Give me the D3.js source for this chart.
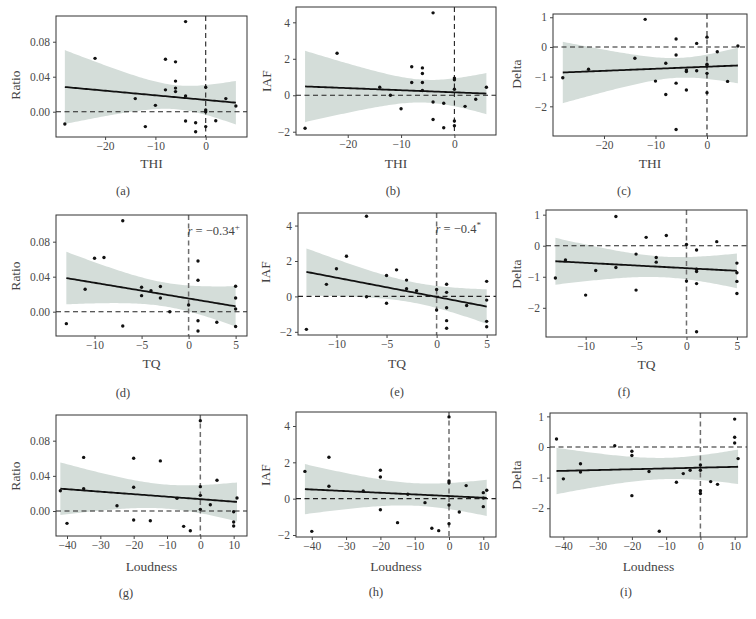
<!DOCTYPE html>
<html><head><meta charset="utf-8">
<script src="https://cdn.jsdelivr.net/npm/d3@7"></script>
<style>body{margin:0;background:#fff} svg{display:block}</style>
</head><body><svg id="c" width="756" height="619"></svg>
<script>
// ---------- data ----------
// (a) Ratio vs THI
const aX = [-4,-22,-8,-6,-6,-6,-6,-8,-4,0,0,0,4,6,-14,-10,-28,-12,-4,-2,-2,0,2];
const aY = [0.103,0.061,0.060,0.057,0.035,0.027,0.023,0.025,0.018,0.028,0.002,0.000,0.015,0.0065,0.015,0.0073,-0.014,-0.017,-0.0106,-0.0126,-0.0229,-0.017,-0.0103];
// (b) IAF vs THI
const bX = [-4,-22,-8,-6,-6,-8,-6,-6,0,0,0,6,-14,-12,-10,-4,-2,2,4,-4,0,0,-2,-28];
const bY = [4.52,2.30,1.56,1.50,1.19,0.70,0.70,0.26,0.94,0.85,0.33,0.44,0.44,0.0,-0.74,-0.37,-0.44,-0.61,-0.22,-1.33,-1.41,-1.67,-1.78,-1.81];
// (c) Delta vs THI
const cX = [-12,-6,0,-2,2,6,-6,-14,-23,-8,-4,-4,-2,0,0,0,-10,-6,4,-4,-8,0,-6,-28];
const cY = [0.93,0.27,0.33,0.12,-0.16,0.03,-0.27,-0.38,-0.75,-0.55,-0.78,-0.83,-0.80,-0.58,-0.64,-0.89,-1.15,-1.22,-1.16,-1.45,-1.60,-1.54,-2.78,-1.04];
// (d) Ratio vs TQ
const dX = [-7,-10,-9,-11,-13,-7,-5,-5,-4,-3,-3,-2,0,1,1,1,1,3,5,5,5,5];
const dY = [0.104,0.061,0.062,0.0256,-0.0137,-0.0163,0.0279,0.0183,0.024,0.0288,0.0157,0.0,0.0077,0.058,0.0359,-0.0103,-0.022,-0.012,0.029,0.0157,0.003,-0.017];
// (e) IAF vs TQ
const eX = [-7,-9,-10,-11,-13,-7,-5,-4,-3,-3,-2,-5,0,0,1,1,1,1,1,3,5,5,5,5];
const eY = [4.53,2.27,1.56,0.68,-1.86,-0.02,1.18,1.50,0.92,0.43,0.32,-0.39,0.39,-0.77,0.69,0.23,-0.64,-1.37,-1.80,-0.51,0.85,-0.21,-1.41,-1.71];
// (f) Delta vs TQ
const fX = [-7,-4,-2,3,0,1,-5,-3,-3,5,-12,-9,-7,-13,-10,-5,0,1,1,1,1,5,5,5];
const fY = [0.94,0.27,0.33,0.13,0.04,-0.14,-0.27,-0.38,-0.53,-0.56,-0.46,-0.80,-0.70,-1.04,-1.59,-1.43,-1.14,-0.76,-0.83,-1.22,-2.77,-0.87,-1.15,-1.54];
// (g) Ratio vs Loudness
const gX = [0,-35,-20,-12,5,-42,-35,-20,0,0,-7,-25,3,11,0,10,-20,-15,-40,-5,-3,10,10];
const gY = [0.1027,0.061,0.060,0.057,0.035,0.023,0.0254,0.027,0.0277,0.0178,0.0144,0.006,0.0072,0.0148,0.0019,-0.0008,-0.0102,-0.011,-0.014,-0.0174,-0.0224,-0.0125,-0.0171];
// (h) IAF vs Loudness
const hX = [0,-35,-20,-20,-42,-35,-25,-12,0,0,5,10,11,0,-7,10,-20,3,-15,0,-5,-3,-40,10];
const hY = [4.5,2.28,1.56,1.19,1.5,0.68,0.42,0.24,0.97,0.88,0.72,0.33,0.46,-0.35,-0.22,-0.44,-0.61,-0.73,-1.32,-1.38,-1.63,-1.76,-1.8,0.03];
// (i) Delta vs Loudness
const iX = [10,10,10,-42,-25,-20,-20,11,-35,-35,-15,-5,-3,0,0,-40,-7,3,5,0,0,-20,-12];
const iY = [0.91,0.32,0.13,0.26,0.04,-0.14,-0.28,-0.38,-0.55,-0.82,-0.80,-0.87,-0.76,-0.59,-0.76,-1.04,-1.15,-1.13,-1.22,-1.43,-1.52,-1.59,-2.75];

// tick labels
const ticksTHI = [-20,-10,0];
const ticksTQ = [-10,-5,0,5];
const ticksLoud = [-40,-30,-20,-10,0,10];
const ticksRatio = [0,0.04,0.08];
const ticksIAF = [-2,0,2,4];
const ticksDelta = [-2,-1,0,1];
const captions = ["(a)","(b)","(c)","(d)","(e)","(f)","(g)","(h)","(i)"];
const annotations = {d:"−0.34", e:"−0.4"};
const annotationSup = {d:"+", e:"*"};

// fit span of each row variable
const spanTHI = d3.extent([...aX,...bX,...cX]);
const spanTQ = d3.extent([...dX,...eX,...fX]);
const spanLoud = d3.extent([...gX,...hX,...iX]);

// ---------- layout ----------
const panels = [
 {id:'a', X:aX, Y:aY, xl:'THI', yl:'Ratio', box:[56,16,247,137], xd:[-29.76,8.21], yd:[-0.0289,0.1094], xt:ticksTHI, yt:ticksRatio, fmt:'.2f', span:spanTHI, ylp:[15,85], xly:163, cap:[123,191], grey:false},
 {id:'b', X:bX, Y:bY, xl:'THI', yl:'IAF', box:[296,7,496,135], xd:[-29.7,7.8], yd:[-2.18,4.84], xt:ticksTHI, yt:ticksIAF, fmt:'d', span:spanTHI, ylp:[266.7,81], xly:163, cap:[393,191], grey:false},
 {id:'c', X:cX, Y:cY, xl:'THI', yl:'Delta', box:[553,14,747,136], xd:[-29.9,7.77], yd:[-3.0,1.11], xt:ticksTHI, yt:ticksDelta, fmt:'d', span:spanTHI, ylp:[516.7,74], xly:163, cap:[624,191], grey:false},
 {id:'d', X:dX, Y:dY, xl:'TQ', yl:'Ratio', box:[56,215,247,336], xd:[-14.1,6.21], yd:[-0.0278,0.1105], xt:ticksTQ, yt:ticksRatio, fmt:'.2f', span:spanTQ, ylp:[15,276], xly:363, cap:[123,393], grey:true},
 {id:'e', X:eX, Y:eY, xl:'TQ', yl:'IAF', box:[298,213,496,335], xd:[-13.84,5.93], yd:[-2.18,4.71], xt:ticksTQ, yt:ticksIAF, fmt:'d', span:spanTQ, ylp:[265,272], xly:363, cap:[397,392], grey:true},
 {id:'f', X:fX, Y:fY, xl:'TQ', yl:'Delta', box:[546,210,747,337], xd:[-13.93,6.0], yd:[-2.94,1.15], xt:ticksTQ, yt:ticksDelta, fmt:'d', span:spanTQ, ylp:[516.7,274], xly:364, cap:[624,392], grey:true},
 {id:'g', X:gX, Y:gY, xl:'Loudness', yl:'Ratio', box:[56,415,247,536], xd:[-43.3,14.0], yd:[-0.0284,0.1092], xt:ticksLoud, yt:ticksRatio, fmt:'.2f', span:spanLoud, ylp:[15,476], xly:566, cap:[126,593], grey:true},
 {id:'h', X:hX, Y:hY, xl:'Loudness', yl:'IAF', box:[296,412,496,537], xd:[-44.6,13.7], yd:[-2.11,4.77], xt:ticksLoud, yt:ticksIAF, fmt:'d', span:spanLoud, ylp:[265,475], xly:566, cap:[376,592], grey:true},
 {id:'i', X:iX, Y:iY, xl:'Loudness', yl:'Delta', box:[550,413,747,537], xd:[-43.9,13.6], yd:[-2.94,1.11], xt:ticksLoud, yt:ticksDelta, fmt:'d', span:spanLoud, ylp:[516.7,475], xly:566, cap:[626,592], grey:true}
];

const tTable = {19:2.093,20:2.086,21:2.080,22:2.074,23:2.069,24:2.064};
function lmBand(xs, ys, span){
  const n = xs.length, mx = d3.mean(xs), my = d3.mean(ys);
  let sxx=0, sxy=0;
  for(let k=0;k<n;k++){ sxx += (xs[k]-mx)**2; sxy += (xs[k]-mx)*(ys[k]-my); }
  const b = sxy/sxx, a = my - b*mx;
  let sse=0; for(let k=0;k<n;k++){ sse += (ys[k]-(a+b*xs[k]))**2; }
  const s = Math.sqrt(sse/(n-2)), t = tTable[n-2] || 2.07;
  return d3.range(81).map(k=>{
    const x = span[0] + (span[1]-span[0])*k/80, yh = a + b*x;
    const se = s*Math.sqrt(1/n + (x-mx)**2/sxx);
    return {x, y:yh, lo:yh - t*se, hi:yh + t*se};
  });
}

const svg = d3.select('#c');
const FONT = 'Liberation Serif, DejaVu Serif, serif';
const defs = svg.append('defs');

panels.forEach((p, idx)=>{
  const [L,T,R,B] = p.box;
  const x = d3.scaleLinear().domain(p.xd).range([L,R]);
  const y = d3.scaleLinear().domain(p.yd).range([B,T]);
  const g = svg.append('g');
  defs.append('clipPath').attr('id','clip'+p.id).append('rect').attr('x',L).attr('y',T).attr('width',R-L).attr('height',B-T);
  const inner = g.append('g').attr('clip-path','url(#clip'+p.id+')');

  const band = lmBand(p.X, p.Y, p.span);
  inner.append('path').datum(band)
    .attr('d', d3.area().x(d=>x(d.x)).y0(d=>y(d.lo)).y1(d=>y(d.hi)))
    .attr('fill','#d4ddd9');

  // zero reference lines
  inner.append('line').attr('x1',L).attr('x2',R).attr('y1',y(0)).attr('y2',y(0))
    .attr('stroke','#222').attr('stroke-width',1.1).attr('stroke-dasharray','5,3.5');
  inner.append('line').attr('x1',x(0)).attr('x2',x(0)).attr('y1',T).attr('y2',B)
    .attr('stroke', p.grey ? '#6e6e6e' : '#222').attr('stroke-width', p.grey ? 1.5 : 1.1)
    .attr('stroke-dasharray','5,3.5');

  inner.append('path').datum(band)
    .attr('d', d3.line().x(d=>x(d.x)).y(d=>y(d.y)))
    .attr('fill','none').attr('stroke','#111').attr('stroke-width',1.8);

  inner.selectAll('circle').data(p.X.map((v,k)=>[v,p.Y[k]])).join('circle')
    .attr('cx',d=>x(d[0])).attr('cy',d=>y(d[1])).attr('r',1.7).attr('fill','#111');

  g.append('rect').attr('x',L).attr('y',T).attr('width',R-L).attr('height',B-T)
    .attr('fill','none').attr('stroke','#333').attr('stroke-width',1);

  const fmt = p.fmt==='d' ? d3.format('d') : d3.format(p.fmt);
  const ax = g.append('g').attr('transform',`translate(0,${B})`)
    .call(d3.axisBottom(x).tickValues(p.xt).tickSize(3).tickPadding(2).tickFormat(d3.format('d')));
  const ay = g.append('g').attr('transform',`translate(${L},0)`)
    .call(d3.axisLeft(y).tickValues(p.yt).tickSize(3).tickPadding(3).tickFormat(fmt));
  [ax,ay].forEach(a=>{
    a.attr('font-family',FONT).attr('font-size',11.5);
    a.select('.domain').remove();
    a.selectAll('line').attr('stroke','#444');
    a.selectAll('text').attr('font-weight','normal').attr('fill','#4a4a4a');
  });

  const txt = (sel)=>sel.attr('font-family',FONT).attr('font-weight','normal').attr('fill','#444');
  txt(g.append('text')).attr('x',(L+R)/2).attr('y',p.xly).attr('dy','0.35em').attr('text-anchor','middle')
    .attr('font-size',13.5).text(p.xl);
  txt(g.append('text')).attr('transform',`translate(${p.ylp[0]},${p.ylp[1]}) rotate(-90)`)
    .attr('dy','0.35em').attr('text-anchor','middle').attr('font-size',13.5).text(p.yl);
  txt(g.append('text')).attr('x',p.cap[0]).attr('y',p.cap[1]).attr('dy','0.35em').attr('text-anchor','middle')
    .attr('font-size',12.5).text(captions[idx]);

  if (annotations[p.id]) {
    const t = txt(g.append('text')).attr('x',x(0)-1).attr('y',T+20).attr('font-size',12.5);
    t.append('tspan').attr('font-style','italic').text('r');
    t.append('tspan').text(' = ' + annotations[p.id]);
    t.append('tspan').attr('dy',-5).attr('font-size',9).text(annotationSup[p.id]);
  }
});
</script>
</body></html>
